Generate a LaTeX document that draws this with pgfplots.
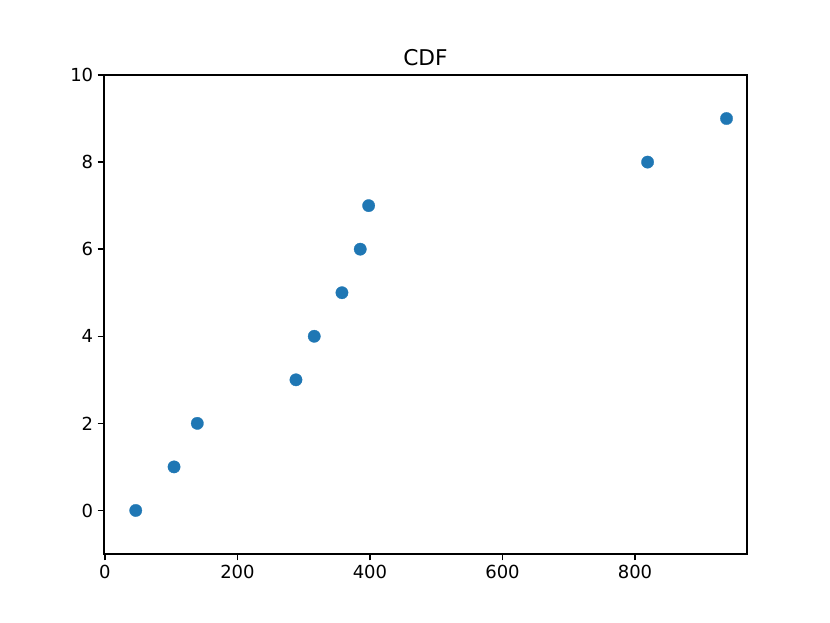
\documentclass[border=0pt]{standalone}
\usepackage{fontspec}
\setmainfont{DejaVu Sans}
\usepackage{pgfplots}
\pgfplotsset{compat=1.18}
\definecolor{mplblue}{HTML}{1F77B4}
\begin{document}
\begin{tikzpicture}
\begin{axis}[
  scale only axis,
  width=643pt, height=479pt,
  xmin=-1.4, xmax=969,
  ymin=-1, ymax=10,
  xtick={0,200,400,600,800},
  ytick={0,2,4,6,8,10},
  tick align=outside,
  major tick length=6.3pt,
  axis line style={line width=1.44pt},
  every tick/.style={line width=1.44pt, black},
  xtick pos=bottom, ytick pos=left,
  /pgf/number format/assume math mode=true,
  /pgf/number format/1000 sep={},
  tick label style={font=\fontsize{18}{22}\selectfont},
  xticklabel style={yshift=-1pt},
  yticklabel style={xshift=-1pt},
  title={CDF},
  title style={font=\fontsize{21.7}{26}\selectfont, yshift=0pt},
]
\addplot[only marks, mark=*, mark size=6.2pt, mark options={fill=mplblue, draw=mplblue, line width=0.3pt}, color=mplblue] coordinates {
(46.5,0) (104.3,1) (139.4,2) (288.3,3) (315.9,4) (357.7,5) (385.3,6) (398.0,7) (819.0,8) (938.1,9)
};
\coordinate (sw) at (rel axis cs:0,0);
\coordinate (ne) at (rel axis cs:1,1);
\end{axis}
\path[use as bounding box] ([shift={(-104pt,-69pt)}]sw) rectangle ([shift={(83pt,75pt)}]ne);
\end{tikzpicture}
\end{document}
